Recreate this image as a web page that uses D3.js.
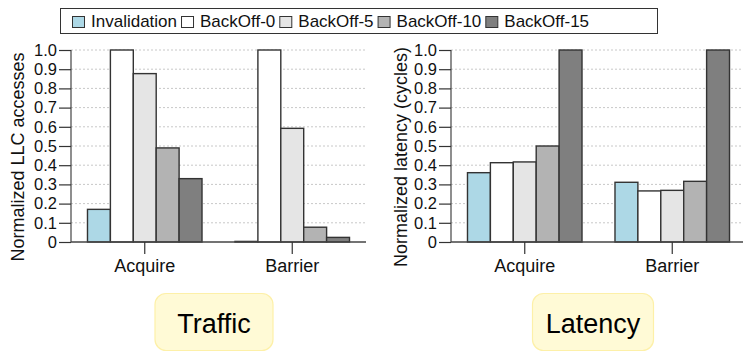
<!DOCTYPE html>
<html><head><meta charset="utf-8">
<script src="https://cdn.jsdelivr.net/npm/d3@7"></script>
<style>
html,body{margin:0;padding:0;background:#fff;}
svg{display:block;}
svg text{font-family:'Liberation Sans',Arial,Helvetica,sans-serif;}
</style></head>
<body><svg id="c" width="743" height="353"></svg>
<script>
const categories = ["Acquire", "Barrier"];
const series = ["Invalidation", "BackOff-0", "BackOff-5", "BackOff-10", "BackOff-15"];
const colors = ["#add8e6", "#ffffff", "#e5e5e5", "#b3b3b3", "#7f7f7f"];
const trafficValues = [
  [0.17, 1.0, 0.877, 0.49, 0.33],
  [0.003, 1.0, 0.592, 0.077, 0.024]
];
const latencyValues = [
  [0.361, 0.413, 0.417, 0.50, 1.0],
  [0.311, 0.266, 0.269, 0.316, 1.0]
];
const yTicks = [0, 0.1, 0.2, 0.3, 0.4, 0.5, 0.6, 0.7, 0.8, 0.9, 1.0];
const yTickLabels = ["0", "0.1", "0.2", "0.3", "0.4", "0.5", "0.6", "0.7", "0.8", "0.9", "1.0"];
const panelTitles = ["Traffic", "Latency"];
const yTitles = ["Normalized LLC accesses", "Normalized latency (cycles)"];

const svg = d3.select("#c");
const y = d3.scaleLinear().domain([0, 1]).range([242, 50]);

function panel(x0Start, x0End, values, yTitle, titleX) {
  const g = svg.append("g");
  const x0 = d3.scaleBand().domain(categories).range([x0Start, x0End]).padding(0);
  const x1 = d3.scaleBand().domain(series).range([0, x0.bandwidth()]).paddingInner(0).paddingOuter(0.72);

  // grid
  g.append("g").selectAll("line").data(yTicks.filter(d => d > 0)).join("line")
    .attr("x1", x0Start).attr("x2", x0End)
    .attr("y1", d => y(d)).attr("y2", d => y(d))
    .attr("stroke", "#c8c8c8").attr("stroke-width", 1).attr("stroke-dasharray", "2,2");

  // bars
  const groups = g.append("g").selectAll("g").data(categories).join("g")
    .attr("transform", d => `translate(${x0(d)},0)`);
  groups.selectAll("rect").data((d, i) => values[i].map((v, j) => ({s: series[j], v, j})))
    .join("rect")
    .attr("x", d => x1(d.s)).attr("width", x1.bandwidth())
    .attr("y", d => y(d.v)).attr("height", d => y(0) - y(d.v))
    .attr("fill", d => colors[d.j]).attr("stroke", "#333").attr("stroke-width", 1.4);

  // y axis
  const ya = d3.axisLeft(y).tickValues(yTicks).tickFormat((d, i) => yTickLabels[i]).tickSize(12).tickPadding(2);
  const yg = g.append("g").attr("transform", `translate(${x0Start},0)`).call(ya);
  yg.attr("font-family", null);
  yg.select(".domain").attr("stroke", "#444").attr("stroke-width", 1.2).attr("d", `M0,${y(0)}V${y(1)}`);
  yg.selectAll(".tick line").attr("stroke", "#333").attr("stroke-width", 1.2);
  yg.selectAll(".tick text").attr("font-size", 16.5).attr("fill", "#111");

  // x axis
  const xa = d3.axisBottom(x0).tickSize(12).tickPadding(5);
  const xg = g.append("g").attr("transform", `translate(0,${y(0)})`).call(xa);
  xg.attr("font-family", null);
  xg.select(".domain").attr("stroke", "#444").attr("stroke-width", 1.4).attr("d", `M${x0Start},0H${x0End}`);
  xg.selectAll(".tick line").attr("stroke", "#333").attr("stroke-width", 1.2);
  xg.selectAll(".tick text").attr("font-size", 18).attr("fill", "#111");

  // y title
  g.append("text").attr("transform", `translate(${titleX},157) rotate(-90)`)
    .attr("text-anchor", "middle").attr("dy", "0.35em")
    .attr("font-size", 18).attr("fill", "#111").text(yTitle);
}

panel(71, 366, trafficValues, yTitles[0], 18);
panel(451, 746, latencyValues, yTitles[1], 401);

// legend
const lg = svg.append("g");
lg.append("rect").attr("x", 60.5).attr("y", 8.5).attr("width", 597).attr("height", 25)
  .attr("fill", "#fff").attr("stroke", "#333").attr("stroke-width", 1);
let lx = 72;
series.forEach((s, i) => {
  lg.append("rect").attr("x", lx + 0.5).attr("y", 16.5).attr("width", 12).attr("height", 11)
    .attr("fill", colors[i]).attr("stroke", "#333").attr("stroke-width", 1);
  const t = lg.append("text").attr("x", lx + 19).attr("y", 27).attr("font-size", 17).attr("fill", "#111").text(s);
  lx = lx + 19 + t.node().getComputedTextLength() + 4;
});

// panel labels
const px = [214, 593];
const pw = [118, 121];
panelTitles.forEach((p, i) => {
  svg.append("rect").attr("x", px[i] - pw[i] / 2).attr("y", 293.5).attr("width", pw[i]).attr("height", 57)
    .attr("rx", 11).attr("fill", "#fffad6").attr("stroke", "#fdf0a8").attr("stroke-width", 1.2);
  svg.append("text").attr("x", px[i]).attr("y", 333).attr("text-anchor", "middle")
    .attr("font-size", 27).attr("fill", "#000").text(p);
});
</script></body></html>
